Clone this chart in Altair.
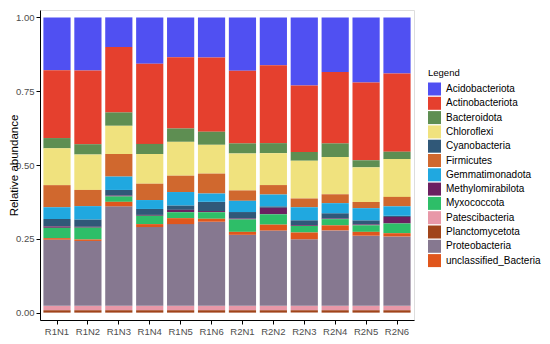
import altair as alt
import pandas as pd

samples = ["R1N1", "R1N2", "R1N3", "R1N4", "R1N5", "R1N6",
           "R2N1", "R2N2", "R2N3", "R2N4", "R2N5", "R2N6"]

phyla = ["Acidobacteriota", "Actinobacteriota", "Bacteroidota", "Chloroflexi",
         "Cyanobacteria", "Firmicutes", "Gemmatimonadota", "Methylomirabilota",
         "Myxococcota", "Patescibacteria", "Planctomycetota", "Proteobacteria",
         "unclassified_Bacteria"]

colors = ["#5050F2", "#E5402E", "#5E8E52", "#F0E27E", "#305878", "#D0682E",
          "#20A8E0", "#6B2060", "#2EBE68", "#E898A8", "#A0441A", "#867890",
          "#E0561C"]

# stacking order from the top of each bar downwards
stack_top_down = ["Acidobacteriota", "Actinobacteriota", "Bacteroidota", "Chloroflexi",
                  "Firmicutes", "Gemmatimonadota", "Cyanobacteria", "Methylomirabilota",
                  "Myxococcota", "unclassified_Bacteria", "Proteobacteria",
                  "Patescibacteria", "Planctomycetota"]

acidobacteriota   = [0.180, 0.180, 0.100, 0.156, 0.134, 0.135, 0.180, 0.162, 0.230, 0.185, 0.220, 0.190]
actinobacteriota  = [0.230, 0.250, 0.220, 0.270, 0.240, 0.250, 0.246, 0.264, 0.225, 0.241, 0.263, 0.265]
bacteroidota      = [0.035, 0.035, 0.045, 0.034, 0.045, 0.044, 0.034, 0.034, 0.030, 0.046, 0.024, 0.025]
chloroflexi       = [0.125, 0.120, 0.095, 0.100, 0.114, 0.097, 0.125, 0.108, 0.127, 0.126, 0.117, 0.128]
cyanobacteria     = [0.025, 0.025, 0.019, 0.020, 0.015, 0.031, 0.022, 0.005, 0.017, 0.018, 0.014, 0.004]
firmicutes        = [0.075, 0.055, 0.076, 0.055, 0.055, 0.067, 0.035, 0.032, 0.030, 0.030, 0.021, 0.032]
gemmatimonadota   = [0.040, 0.045, 0.045, 0.030, 0.045, 0.028, 0.038, 0.040, 0.044, 0.034, 0.041, 0.032]
methylomirabilota = [0.005, 0.003, 0.003, 0.003, 0.008, 0.004, 0.003, 0.022, 0.002, 0.002, 0.003, 0.022]
myxococcota       = [0.035, 0.040, 0.018, 0.028, 0.020, 0.022, 0.042, 0.035, 0.022, 0.021, 0.022, 0.033]
patescibacteria   = [0.015, 0.015, 0.015, 0.015, 0.015, 0.015, 0.015, 0.015, 0.015, 0.015, 0.015, 0.015]
planctomycetota   = [0.008, 0.008, 0.008, 0.008, 0.008, 0.008, 0.008, 0.008, 0.008, 0.008, 0.008, 0.008]
proteobacteria    = [0.225, 0.220, 0.335, 0.265, 0.275, 0.283, 0.240, 0.255, 0.225, 0.255, 0.237, 0.235]
unclassified      = [0.005, 0.005, 0.015, 0.010, 0.020, 0.010, 0.010, 0.020, 0.023, 0.017, 0.013, 0.011]

series = {
    "Acidobacteriota": acidobacteriota,
    "Actinobacteriota": actinobacteriota,
    "Bacteroidota": bacteroidota,
    "Chloroflexi": chloroflexi,
    "Cyanobacteria": cyanobacteria,
    "Firmicutes": firmicutes,
    "Gemmatimonadota": gemmatimonadota,
    "Methylomirabilota": methylomirabilota,
    "Myxococcota": myxococcota,
    "Patescibacteria": patescibacteria,
    "Planctomycetota": planctomycetota,
    "Proteobacteria": proteobacteria,
    "unclassified_Bacteria": unclassified,
}

rows = []
for p, vals in series.items():
    order = len(stack_top_down) - 1 - stack_top_down.index(p)
    for s, v in zip(samples, vals):
        rows.append({"Sample": s, "Phylum": p, "Abundance": v, "ord": order})
df = pd.DataFrame(rows)
# relative abundance: each sample sums to 1
df["Abundance"] = df["Abundance"] / df.groupby("Sample")["Abundance"].transform("sum")

FONT = "Liberation Sans"

chart = alt.Chart(df).mark_bar().encode(
    x=alt.X("Sample:N", sort=samples, title=None,
            scale=alt.Scale(paddingInner=0.12, paddingOuter=0.11),
            axis=alt.Axis(labelAngle=0, labelFontSize=9.5, labelColor="#4D4D4D",
                          labelFont=FONT, domainColor="black", tickColor="black",
                          tickSize=4, labelPadding=2, grid=False)),
    y=alt.Y("Abundance:Q", stack="zero", title="Relative abundance",
            scale=alt.Scale(domain=[-0.025, 1.025], nice=False, zero=False),
            axis=alt.Axis(values=[0, 0.25, 0.5, 0.75, 1.0], format=".2f",
                          labelFontSize=9.5, labelColor="#4D4D4D", labelFont=FONT,
                          titleFont=FONT, titleFontSize=11.5, titleFontWeight="normal",
                          titleColor="black", domainColor="black", tickColor="black",
                          tickSize=4, labelPadding=2, grid=False,
                          titleX=-26, titleY=155, titleAngle=270,
                          titleAlign="center", titleBaseline="middle")),
    color=alt.Color("Phylum:N",
                    scale=alt.Scale(domain=phyla, range=colors),
                    legend=alt.Legend(title="Legend", orient="none",
                                      legendX=388, legendY=58,
                                      titleFont=FONT, titleFontSize=9.5,
                                      titleFontWeight="normal", titleColor="black",
                                      labelFont=FONT, labelFontSize=10,
                                      labelColor="black", symbolType="square",
                                      symbolSize=169, symbolStrokeWidth=0,
                                      symbolOpacity=1, rowPadding=1.3,
                                      labelOffset=5, titlePadding=5)),
    order=alt.Order("ord:Q", sort="ascending"),
).properties(
    width=374, height=310,
    autosize=alt.AutoSizeParams(type="none"),
    padding={"left": 32, "top": 2, "right": 128, "bottom": 16},
).configure_view(stroke=None).configure(background="white")

chart.save("out.html", embed_options={"renderer": "svg", "actions": False})
